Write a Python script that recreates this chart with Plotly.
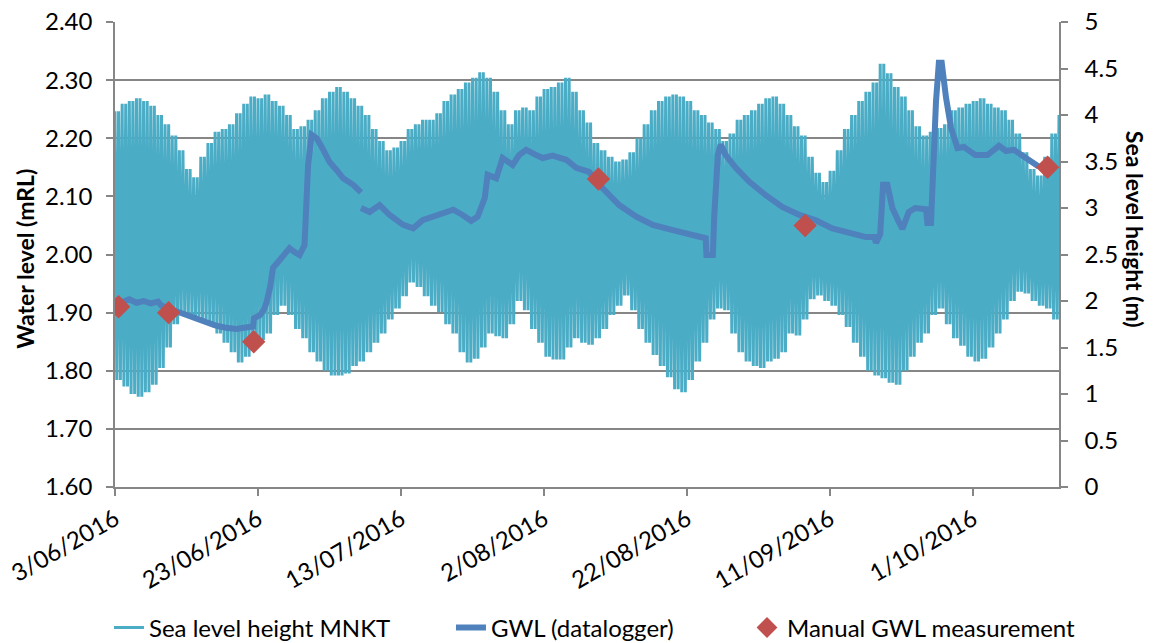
import pandas as pd
import plotly.graph_objects as go

START = pd.Timestamp("2016-06-03")
END = pd.Timestamp("2016-10-13")

# Daily high / low tide at MNKT (m), one pair per day from 3/06/2016
sea_high = [
    4.04, 4.12, 4.15, 4.18, 4.15, 4.10, 4.00, 3.90, 3.78, 3.62,
    3.42, 3.33, 3.55, 3.70, 3.82, 3.85, 3.90, 4.02, 4.12, 4.20,
    4.18, 4.22, 4.15, 4.10, 4.00, 3.85, 3.88, 3.95, 4.05, 4.18,
    4.25, 4.30, 4.25, 4.18, 4.10, 4.00, 3.85, 3.72, 3.62, 3.65,
    3.72, 3.85, 3.90, 3.95, 3.95,
    4.02, 4.15, 4.22, 4.28, 4.35, 4.40, 4.46, 4.40, 4.25, 4.05,
    3.90, 4.05, 4.08, 4.05, 4.20, 4.28, 4.30, 4.35, 4.40, 4.25,
    4.05, 3.92,
    3.70, 3.62, 3.55, 3.50, 3.52, 3.60, 3.75, 3.90, 4.05, 4.15,
    4.20, 4.22, 4.20, 4.15, 4.05, 4.00, 3.92, 3.85, 3.72, 3.80,
    3.95, 4.00,
    4.05, 4.12, 4.18, 4.20, 4.12, 4.00, 3.88, 3.78, 3.55, 3.38,
    3.28, 3.40, 3.62, 3.85, 4.00, 4.15, 4.25, 4.35, 4.55, 4.45,
    4.30, 4.20,
    4.05, 3.88, 3.78, 3.82, 3.86, 3.90, 4.05, 4.08, 4.12, 4.15,
    4.18, 4.12, 4.08, 4.05, 3.95, 3.80, 3.60, 3.42, 3.35, 3.55,
    3.80, 4.00,
]
sea_low = [
    1.15, 1.08, 1.00, 0.97, 1.02, 1.10, 1.28, 1.50, 1.75, 1.85,
    1.85, 1.83, 1.80, 1.75, 1.65, 1.55, 1.45, 1.34, 1.40, 1.50,
    1.58, 1.65, 1.85, 1.95, 1.85, 1.70, 1.60, 1.45, 1.35, 1.25,
    1.20, 1.20, 1.22, 1.30, 1.35, 1.45, 1.55, 1.65, 1.80, 1.92,
    2.05, 2.20, 2.15, 2.05, 1.95,
    1.88, 1.75, 1.65, 1.45, 1.34, 1.38, 1.50, 1.65, 1.62, 1.60,
    1.75, 2.00, 1.90, 1.70, 1.55, 1.40, 1.37, 1.37, 1.50, 1.60,
    1.55, 1.53,
    1.60, 1.70, 1.85, 1.95, 2.06, 1.90, 1.70, 1.55, 1.42, 1.30,
    1.18, 1.05, 1.02, 1.15, 1.35, 1.55, 1.80, 1.92, 1.90, 1.65,
    1.45, 1.35,
    1.30, 1.28, 1.35, 1.38, 1.45, 1.65, 1.63, 1.80, 2.02, 2.06,
    2.00, 1.95, 1.85, 1.72, 1.55, 1.40, 1.25, 1.20, 1.17, 1.12,
    1.10, 1.25,
    1.40, 1.55, 1.65, 1.85, 1.92, 1.75, 1.60, 1.52, 1.40, 1.35,
    1.38, 1.50, 1.65, 1.80, 2.00, 2.10, 2.08, 2.00, 1.95, 1.92,
    1.80, 1.75,
]

# Datalogger groundwater level (mRL); day offsets from 3/06/2016, None = logger gap
gwl_day = [
    0.0, 1.0, 2.0, 3.0, 4.0, 5.0, 6.0, 6.5, 8.0, 9.5, 11.0, 12.5, 14.0, 15.5,
    17.0, 18.0, 19.3, 19.4, 20.3, 20.8, 21.2, 21.7, 22.1, 23.0, 24.0, 24.4,
    25.0, 25.8, 26.5, 26.8, 27.0, 27.5, 28.2, 29.0, 30.0, 31.0, 31.9, 33.3,
    34.4, None, 34.4, 35.6, 37.0, 38.4, 40.3, 41.7, 43.0, 44.0, 45.4, 47.3,
    48.6, 49.8, 50.7, 51.2, 51.7, 52.1, 53.3, 54.2, 55.6, 56.5, 57.5, 58.9,
    59.8, 61.2, 63.1, 64.5, 65.5, 66.3, 68.2, 70.5, 72.9, 75.2, 78.0, 80.3,
    82.6, 82.7, 83.6, 83.8, 84.3, 84.7, 85.4, 86.8, 88.7, 91.0, 93.3, 95.7,
    98.0, 100.3, 102.7, 105.0, 106.2, 106.4, 107.0, 107.2, 107.4, 108.0,
    108.7, 109.6, 110.1, 111.0, 111.9, 113.4, 113.6, 114.1, 114.3, 114.8,
    115.2, 115.6, 116.2, 116.9, 117.8, 118.7, 120.3, 122.0, 123.6, 124.6,
    125.7, 126.9, 128.3, 129.2,
]
gwl_level = [
    1.922, 1.918, 1.923, 1.917, 1.920, 1.916, 1.919, 1.912, 1.905, 1.898,
    1.891, 1.884, 1.878, 1.874, 1.872, 1.874, 1.876, 1.890, 1.896, 1.905,
    1.918, 1.945, 1.977, 1.990, 2.008, 2.011, 2.005, 1.999, 2.016, 2.100,
    2.154, 2.206, 2.200, 2.183, 2.159, 2.145, 2.131, 2.120, 2.107, None,
    2.080, 2.073, 2.085, 2.068, 2.051, 2.045, 2.059, 2.063, 2.071, 2.077,
    2.068, 2.058, 2.065, 2.080, 2.097, 2.137, 2.131, 2.166, 2.154, 2.171,
    2.180, 2.171, 2.166, 2.170, 2.163, 2.149, 2.146, 2.142, 2.114, 2.085,
    2.065, 2.051, 2.042, 2.035, 2.028, 1.999, 1.999, 2.068, 2.171, 2.189,
    2.171, 2.149, 2.125, 2.102, 2.082, 2.068, 2.059, 2.045, 2.037, 2.030,
    2.030, 2.020, 2.035, 2.080, 2.120, 2.120, 2.080, 2.056, 2.044, 2.073,
    2.080, 2.078, 2.054, 2.054, 2.125, 2.263, 2.330, 2.330, 2.270, 2.218,
    2.183, 2.185, 2.171, 2.171, 2.187, 2.178, 2.180, 2.171, 2.159, 2.151,
]

# Manual dip-meter readings (mRL)
manual_day = [0.5, 7.5, 19.4, 67.6, 96.5, 130.4]
manual_level = [1.91, 1.90, 1.85, 2.13, 2.05, 2.15]

SEA_COLOR = "#4BACC6"
GWL_COLOR = "#4F81BD"
MANUAL_COLOR = "#C0504D"
AXIS_GREY = "#868686"
FONT = "Lato"


def to_dates(days):
    return [None if d is None else START + pd.Timedelta(days=d) for d in days]


# semidiurnal tide: two highs and two lows per day within that day's range
sea_t, sea_h = [], []
n_days = len(sea_high)
for d, (hi, lo) in enumerate(zip(sea_high, sea_low)):
    for k, val in enumerate((hi, lo, hi, lo)):
        t = d + k * 0.25
        if t <= n_days - 1:
            sea_t.append(START + pd.Timedelta(days=t))
            sea_h.append(val)

fig = go.Figure()

fig.add_trace(go.Scatter(
    x=sea_t, y=sea_h, yaxis="y", mode="lines",
    name="Sea level height MNKT", legend="legend",
    line=dict(color=SEA_COLOR, width=3),
))
fig.add_trace(go.Scatter(
    x=to_dates(gwl_day), y=gwl_level, yaxis="y2", mode="lines",
    name="GWL (datalogger)", connectgaps=False, legend="legend2",
    line=dict(color=GWL_COLOR, width=6),
))
fig.add_trace(go.Scatter(
    x=to_dates(manual_day), y=manual_level, yaxis="y2", mode="markers",
    name="Manual GWL measurement", legend="legend3",
    marker=dict(symbol="diamond", size=18, color=MANUAL_COLOR),
))

tick_font = dict(family=FONT, size=24, color="#000000")
legend_font = dict(family=FONT, size=24, color="#000000")
title_font = dict(family=FONT, size=23, color="#000000")


def legend_at(x):
    return dict(orientation="h", x=x, xanchor="left", y=-0.303,
                yanchor="middle", font=legend_font, bgcolor="rgba(0,0,0,0)")


fig.update_layout(
    width=1158, height=643,
    margin=dict(l=115, r=99, t=22, b=156, autoexpand=False),
    paper_bgcolor="white", plot_bgcolor="white",
    showlegend=True,
    legend=legend_at(-0.0064),
    legend2=legend_at(0.3559),
    legend3=legend_at(0.6695),
    xaxis=dict(
        type="date", range=[START, END], automargin=False,
        tick0=START, dtick=20 * 86400000, tickformat="%-d/%m/%Y",
        tickangle=-30, ticks="outside", ticklen=7, tickcolor=AXIS_GREY,
        tickwidth=1.5, showgrid=False, showline=True, linecolor=AXIS_GREY,
        linewidth=1.5, tickfont=tick_font, zeroline=False,
    ),
    # sea level on the right-hand axis
    yaxis=dict(
        side="right", range=[0, 5], dtick=0.5, tickformat="~g",
        ticks="outside", ticklen=7, tickcolor=AXIS_GREY, tickwidth=1.5,
        showgrid=False, showline=True, linecolor=AXIS_GREY, linewidth=1.5,
        tickfont=tick_font, ticklabelstandoff=12, zeroline=False,
        automargin=False,
    ),
    # groundwater level on the left-hand axis, drawn over the tide band
    yaxis2=dict(
        side="left", overlaying="y", range=[1.6, 2.4], dtick=0.1,
        tickformat=".2f", ticks="outside", ticklen=7, tickcolor=AXIS_GREY,
        tickwidth=1.5, showgrid=True, gridcolor=AXIS_GREY, gridwidth=1.5,
        showline=True, linecolor=AXIS_GREY, linewidth=1.5,
        tickfont=tick_font, ticklabelstandoff=9, zeroline=False,
        automargin=False,
    ),
    annotations=[
        dict(text="<b>Water level (mRL)</b>", xref="paper", yref="paper",
             x=-0.0953, y=0.491, xanchor="center", yanchor="middle",
             textangle=-90, showarrow=False, font=title_font),
        dict(text="<b>Sea level height (m)</b>", xref="paper", yref="paper",
             x=1.0805, y=0.553, xanchor="center", yanchor="middle",
             textangle=90, showarrow=False, font=title_font),
    ],
)

fig.write_html("out.html")
